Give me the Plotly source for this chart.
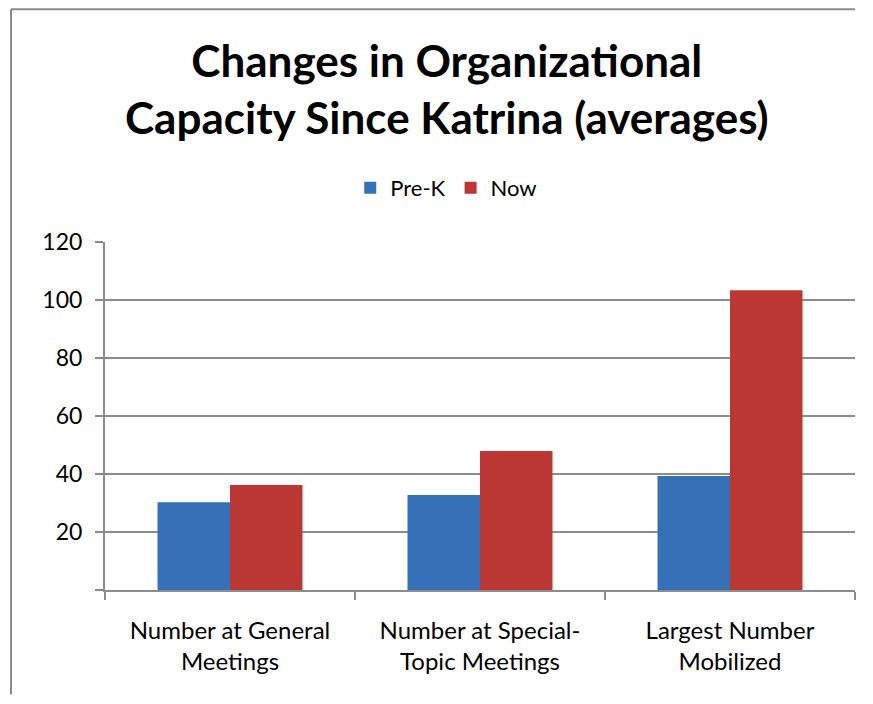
import plotly.graph_objects as go

categories = ["Number at General<br>Meetings", "Number at Special-<br>Topic Meetings", "Largest Number<br>Mobilized"]
pre_k = [30.3, 32.8, 39.3]
now = [36.2, 47.9, 103.4]
y_ticks = [0, 20, 40, 60, 80, 100, 120]
y_labels = ["", "20", "40", "60", "80", "100", "120"]
title = "<b>Changes in Organizational<br>Capacity Since Katrina (averages)</b>"

font = "Lato, Open Sans, sans-serif"
grid = "#8c8c8c"
frame = dict(color="#8a8a8a", width=2)

fig = go.Figure()
fig.add_trace(go.Bar(x=categories, y=pre_k, name="Pre-K", marker_color="#3670b6", marker_line_width=0))
fig.add_trace(go.Bar(x=categories, y=now, name="Now", marker_color="#ba3733", marker_line_width=0))

# page has an 8px body margin; figure is sized to fit without scrollbars
fig.update_layout(
    width=857, height=688,
    margin=dict(l=97, r=10, t=234, b=106),
    paper_bgcolor="white", plot_bgcolor="white",
    font=dict(family=font, size=22, color="black"),
    barmode="group", bargap=0.42, bargroupgap=0,
    showlegend=True,
    legend=dict(orientation="h", x=0.455, xanchor="center", y=1.155, yanchor="middle",
                font=dict(size=22), traceorder="normal"),
    annotations=[dict(text=title, xref="paper", yref="paper", x=0.456, y=1.44,
                      xanchor="center", yanchor="middle", showarrow=False,
                      font=dict(family=font, size=44, color="black"))],
    # chart frame: only left and top edges show inside the window
    shapes=[dict(type="line", xref="paper", yref="paper", x0=-0.1253, x1=-0.1253, y0=-0.3, y1=1.669,
                 line=frame, layer="below"),
            dict(type="line", xref="paper", yref="paper", x0=-0.1253, x1=1.0, y0=1.669, y1=1.669,
                 line=frame, layer="below")],
)
fig.update_xaxes(showline=True, linecolor=grid, linewidth=2, ticks="outside", tickson="boundaries",
                 ticklen=8, tickcolor=grid, tickwidth=2, showgrid=False, tickfont=dict(size=24),
                 ticklabelstandoff=18)
fig.update_yaxes(range=[0, 120], tickvals=y_ticks, ticktext=y_labels, showgrid=True, gridcolor=grid,
                 gridwidth=2, showline=True, linecolor=grid, linewidth=2, ticks="outside",
                 ticklen=8, tickcolor=grid, tickwidth=2, zeroline=False, tickfont=dict(size=23),
                 ticklabelstandoff=8)

fig.write_html("out.html")
